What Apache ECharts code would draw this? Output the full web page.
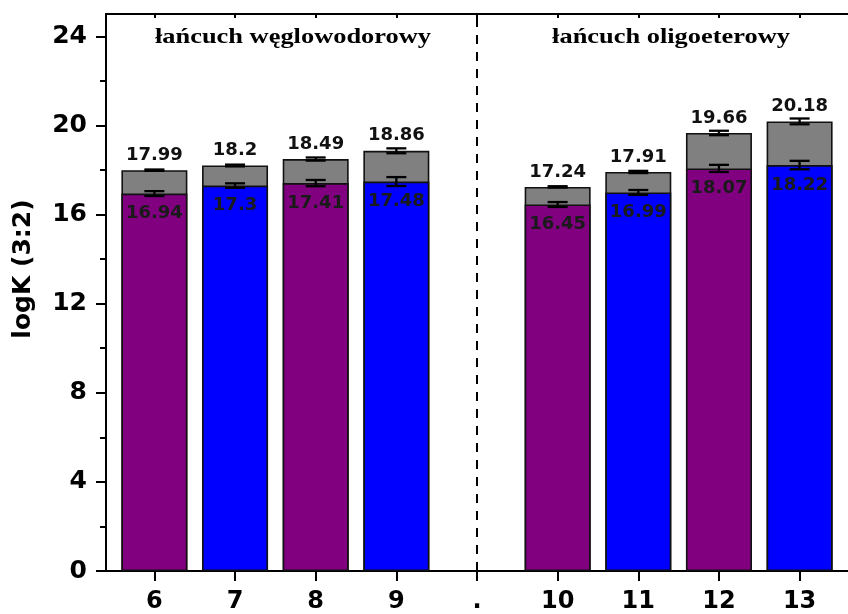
<!DOCTYPE html>
<html>
<head>
<meta charset="utf-8">
<script src="https://cdn.jsdelivr.net/npm/echarts@6/dist/echarts.min.js"></script>
<style>
html,body{margin:0;padding:0;background:#fff;}
#c{width:848px;height:614px;}
</style>
</head>
<body>
<div id="c"></div>
<script>
// ---- data ----
const categories = ['6','7','8','9','.','10','11','12','13'];
const compounds = ['6','7','8','9','10','11','12','13'];
const totalValues = [17.99, 18.2, 18.49, 18.86, 17.24, 17.91, 19.66, 20.18];
const partValues  = [16.94, 17.3, 17.41, 17.48, 16.45, 16.99, 18.07, 18.22];
const totalErr = [0.03, 0.04, 0.07, 0.11, 0.03, 0.05, 0.10, 0.13];
const partErr  = [0.11, 0.10, 0.14, 0.20, 0.11, 0.11, 0.16, 0.19];
const yTicks = [0, 4, 8, 12, 16, 20, 24];
const yMinorTicks = [2, 6, 10, 14, 18, 22];
const separatorLabel = '.';
const groupTitles = ['łańcuch węglowodorowy', 'łańcuch oligoeterowy'];
const yName = 'logK (3:2)';

// ---- styles ----
const PURPLE = '#800080', BLUE = '#0000FF', GREY = '#808080';
const NUMFONT = 'DejaVu Sans';

const xIdx = compounds.map(c => categories.indexOf(c));
const sepIdx = categories.indexOf(separatorLabel);
const catIdx = categories.map((c, i) => i);

const chart = echarts.init(document.getElementById('c'), null, {renderer: 'canvas'});

const totalData = compounds.map((c, i) => [xIdx[i], totalValues[i]]);
const partData = compounds.map((c, i) => ({
  value: [xIdx[i], partValues[i]],
  itemStyle: {color: i % 2 === 0 ? PURPLE : BLUE}
}));
const errData = [];
compounds.forEach((c, i) => {
  errData.push([xIdx[i], totalValues[i], totalErr[i]]);
  errData.push([xIdx[i], partValues[i], partErr[i]]);
});

function renderErr(params, api) {
  const x = api.value(0), v = api.value(1), e = api.value(2);
  const top = api.coord([x, v + e]);
  const bot = api.coord([x, v - e]);
  const hw = 10;
  const st = {stroke: '#000', lineWidth: 2.3};
  return {
    type: 'group',
    children: [
      {type: 'line', shape: {x1: top[0], y1: top[1], x2: bot[0], y2: bot[1]}, style: st},
      {type: 'line', shape: {x1: top[0] - hw, y1: top[1], x2: top[0] + hw, y2: top[1]}, style: st},
      {type: 'line', shape: {x1: bot[0] - hw, y1: bot[1], x2: bot[0] + hw, y2: bot[1]}, style: st}
    ]
  };
}

const option = {
  animation: false,
  backgroundColor: '#fff',
  grid: {left: 106, top: 14, bottom: 41, right: -10, containLabel: false},
  xAxis: [{
    type: 'value', min: -0.6, max: 8.6, position: 'bottom',
    splitLine: {show: false},
    axisLine: {show: true, onZero: false, lineStyle: {color: '#000', width: 2}},
    axisTick: {show: true, inside: false, length: 10, customValues: catIdx, lineStyle: {color: '#000', width: 2}},
    axisLabel: {
      show: true, customValues: catIdx, margin: 19,
      formatter: v => categories[Math.round(v)] ?? '',
      color: '#000', fontFamily: NUMFONT, fontWeight: 'bold', fontSize: 24
    }
  }, {
    type: 'value', min: -0.6, max: 8.6, position: 'top',
    splitLine: {show: false},
    axisLine: {show: true, onZero: false, lineStyle: {color: '#000', width: 2}},
    axisTick: {show: true, inside: true, length: 4, customValues: catIdx, lineStyle: {color: '#000', width: 2}},
    axisLabel: {show: false}
  }],
  yAxis: [{
    type: 'value', min: 0, max: 25, interval: 4,
    splitLine: {show: false},
    axisLine: {show: true, onZero: false, lineStyle: {color: '#000', width: 2}},
    axisTick: {show: true, inside: false, length: 10, customValues: yTicks, lineStyle: {color: '#000', width: 2}},
    axisLabel: {
      show: true, customValues: yTicks, margin: 19,
      color: '#000', fontFamily: NUMFONT, fontWeight: 'bold', fontSize: 25
    }
  }, {
    type: 'value', min: 0, max: 25, position: 'left',
    splitLine: {show: false},
    axisLine: {show: false, onZero: false},
    axisTick: {show: true, inside: false, length: 6, customValues: yMinorTicks, lineStyle: {color: '#000', width: 2}},
    axisLabel: {show: false}
  }],
  series: [{
    type: 'bar', name: 'total', xAxisIndex: 0, yAxisIndex: 0,
    data: totalData, barWidth: 66, barGap: '-100%',
    itemStyle: {color: GREY, borderColor: '#111', borderWidth: 1.6},
    label: {
      show: true, position: 'top', distance: 6,
      formatter: p => String(p.value[1]),
      color: '#111', fontFamily: NUMFONT, fontWeight: 'bold', fontSize: 18
    },
    markLine: {
      silent: true, symbol: ['none', 'none'],
      label: {show: false},
      lineStyle: {color: '#000', width: 2, type: [9, 8]},
      data: [{xAxis: sepIdx}]
    },
    z: 2
  }, {
    type: 'bar', name: 'part', xAxisIndex: 0, yAxisIndex: 0,
    data: partData, barWidth: 66, barGap: '-100%',
    itemStyle: {borderColor: '#111', borderWidth: 1.6},
    label: {
      show: true, position: 'insideTop', distance: 11,
      formatter: p => String(p.value[1]),
      color: '#1a1a1a', fontFamily: NUMFONT, fontWeight: 'bold', fontSize: 18
    },
    z: 3
  }, {
    type: 'custom', name: 'err', xAxisIndex: 0, yAxisIndex: 0,
    renderItem: renderErr, data: errData, z: 5, silent: true
  }],
  graphic: [{
    type: 'text', x: 293, y: 37, scaleX: 1.2,
    style: {text: groupTitles[0], fill: '#000', font: 'bold 22px "Liberation Serif", "Times New Roman", serif',
      textAlign: 'center', textVerticalAlign: 'middle'}
  }, {
    type: 'text', x: 671, y: 37, scaleX: 1.2,
    style: {text: groupTitles[1], fill: '#000', font: 'bold 22px "Liberation Serif", "Times New Roman", serif',
      textAlign: 'center', textVerticalAlign: 'middle'}
  }, {
    type: 'text', x: 23, y: 269, rotation: Math.PI / 2,
    style: {text: yName, fill: '#000', font: 'bold 25px "DejaVu Sans", sans-serif',
      textAlign: 'center', textVerticalAlign: 'middle'}
  }]
};
chart.setOption(option);
</script>
</body>
</html>
